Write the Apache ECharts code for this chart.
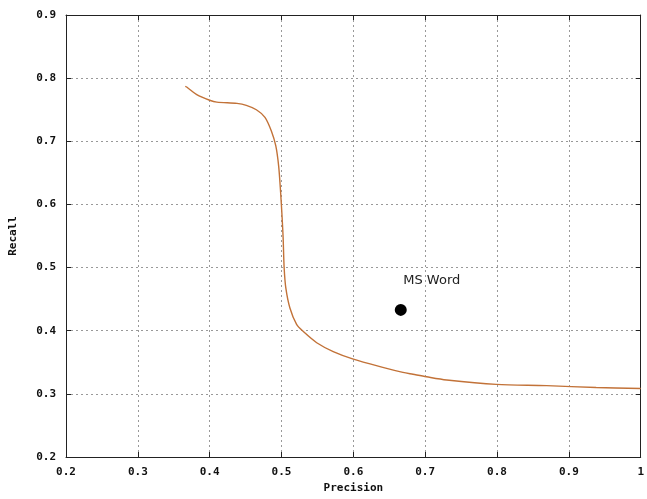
<!DOCTYPE html>
<html>
<head>
<meta charset="utf-8">
<script src="https://cdn.jsdelivr.net/npm/echarts@6/dist/echarts.min.js"></script>
<style>
html,body{margin:0;padding:0;background:#fff;}
#chart{width:647px;height:499px;}
</style>
</head>
<body>
<div id="chart"></div>
<script>
// precision / recall curve
var precision = [0.366, 0.368, 0.382, 0.400, 0.410, 0.438, 0.451, 0.465, 0.477, 0.486, 0.492, 0.496,
    0.4987, 0.5009, 0.5023, 0.5037, 0.5061, 0.5117, 0.521, 0.530, 0.549, 0.572, 0.600, 0.641, 0.669,
    0.683, 0.702, 0.730, 0.799, 0.869, 0.938, 1.0];
var recall = [0.787, 0.786, 0.774, 0.765, 0.762, 0.760, 0.757, 0.750, 0.738, 0.716, 0.693, 0.661,
    0.620, 0.578, 0.546, 0.499, 0.467, 0.436, 0.410, 0.399, 0.381, 0.367, 0.355, 0.342, 0.334,
    0.331, 0.327, 0.322, 0.315, 0.313, 0.310, 0.3085];
var wordPoint = [0.666, 0.433];
var wordLabel = 'MS Word';

var curve = [];
for (var i = 0; i < precision.length; i++) {
    curve.push([precision[i], recall[i]]);
}

var chart = echarts.init(document.getElementById('chart'));

function axis(pos, showLabel, min, max, name) {
    return {
        type: 'value', position: pos, min: min, max: max, interval: 0.1,
        name: name || '',
        nameLocation: 'middle',
        nameGap: pos == 'left' ? 47 : 26,
        nameTextStyle: {fontFamily: 'DejaVu Sans Mono', fontWeight: 'bold', fontSize: 11, color: '#111'},
        axisLine: {show: true, onZero: false, lineStyle: {color: '#222', width: 1}},
        axisTick: {show: true, inside: true, length: 5, lineStyle: {color: '#222'}},
        axisLabel: {show: showLabel, margin: 10, formatter: function(v){ return v == 1 ? '1' : v.toFixed(1); }, fontFamily: 'DejaVu Sans Mono', fontWeight: 'bold', fontSize: 11, color: '#111'},
        splitLine: {show: showLabel, lineStyle: {color: '#999', type: [2, 3], width: 1}}
    };
}

var option = {
    animation: false,
    backgroundColor: '#fff',
    grid: {left: 66, right: 6, top: 15, bottom: 39},
    xAxis: [axis('bottom', true, 0.2, 1, 'Precision'), axis('top', false, 0.2, 1)],
    yAxis: [axis('left', true, 0.2, 0.9, 'Recall'), axis('right', false, 0.2, 0.9)],
    series: [
        {
            type: 'line',
            data: curve,
            showSymbol: false,
            smooth: 0.3,
            lineStyle: {color: '#c27238', width: 1.4}
        },
        {
            type: 'scatter',
            data: [wordPoint],
            symbolSize: 12,
            itemStyle: {color: '#000', opacity: 1},
            label: {
                show: true,
                position: 'top',
                offset: [31, -12],
                formatter: wordLabel,
                fontFamily: 'DejaVu Sans',
                fontSize: 13,
                color: '#222'
            }
        }
    ]
};
chart.setOption(option);
</script>
</body>
</html>
